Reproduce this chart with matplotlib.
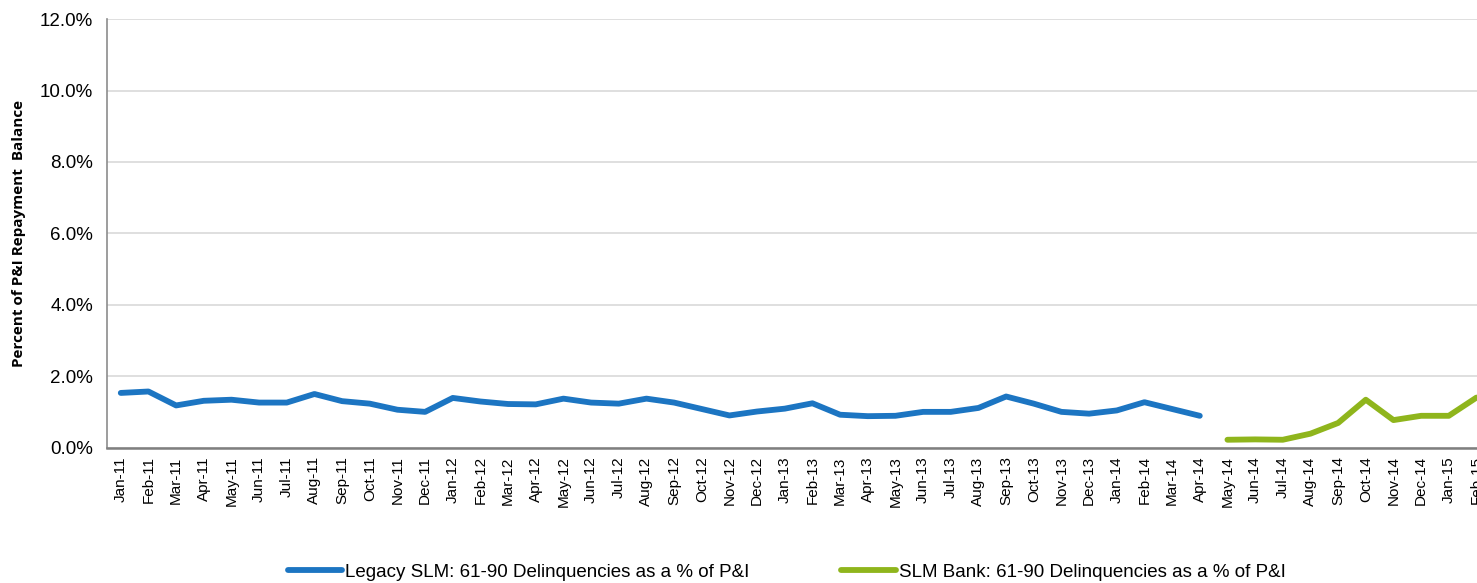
import matplotlib
matplotlib.use('Agg')
import matplotlib.pyplot as plt
import matplotlib.ticker as mticker
import numpy as np

plt.rcParams['font.family'] = ['Liberation Sans', 'DejaVu Sans']

months = [
    'Jan-11', 'Feb-11', 'Mar-11', 'Apr-11', 'May-11', 'Jun-11', 'Jul-11', 'Aug-11', 'Sep-11', 'Oct-11', 'Nov-11', 'Dec-11',
    'Jan-12', 'Feb-12', 'Mar-12', 'Apr-12', 'May-12', 'Jun-12', 'Jul-12', 'Aug-12', 'Sep-12', 'Oct-12', 'Nov-12', 'Dec-12',
    'Jan-13', 'Feb-13', 'Mar-13', 'Apr-13', 'May-13', 'Jun-13', 'Jul-13', 'Aug-13', 'Sep-13', 'Oct-13', 'Nov-13', 'Dec-13',
    'Jan-14', 'Feb-14', 'Mar-14', 'Apr-14', 'May-14', 'Jun-14', 'Jul-14', 'Aug-14', 'Sep-14', 'Oct-14', 'Nov-14', 'Dec-14',
    'Jan-15', 'Feb-15',
]

# Legacy SLM: Jan-11 .. Apr-14 (percent)
legacy = [1.54, 1.58, 1.19, 1.32, 1.35, 1.27, 1.27, 1.51, 1.31, 1.24, 1.07, 1.01,
          1.40, 1.30, 1.23, 1.22, 1.38, 1.27, 1.24, 1.38, 1.27, 1.09, 0.91, 1.02,
          1.10, 1.25, 0.93, 0.89, 0.90, 1.01, 1.01, 1.12, 1.44, 1.24, 1.01, 0.96,
          1.05, 1.28, 1.09, 0.90]

# SLM Bank: May-14 .. Feb-15 (percent)
bank = [0.23, 0.24, 0.23, 0.40, 0.70, 1.35, 0.78, 0.90, 0.90, 1.41]

blue = '#1C75C2'
green = '#8FB51C'

fig = plt.figure(figsize=(14.77, 5.83), dpi=100)
# axes runs past the right edge, the source image is cropped there
ax = fig.add_axes([0.0724, 0.2316, 0.9366, 0.7358])

x = np.arange(len(months))
ax.plot(x[:len(legacy)], legacy, color=blue, lw=4.2, solid_capstyle='round',
        label='Legacy SLM: 61-90 Delinquencies as a % of P&I')
ax.plot(x[len(legacy):], bank, color=green, lw=4.2, solid_capstyle='round',
        label='SLM Bank: 61-90 Delinquencies as a % of P&I')

ax.set_xlim(-0.5, len(months) - 0.5)
ax.set_ylim(0, 12)
ax.set_yticks(np.arange(0, 12.1, 2))
ax.yaxis.set_major_formatter(mticker.FuncFormatter(lambda v, p: f'{v:.1f}%'))
ax.set_xticks(x)
ax.set_xticklabels(months, rotation=90, fontsize=11)
ax.tick_params(axis='y', labelsize=13.5, length=0, pad=10)
ax.tick_params(axis='x', length=0, pad=6)

ax.grid(axis='y', color='#D9D9D9', lw=1.2)
ax.set_axisbelow(True)
ax.spines['top'].set_visible(False)
ax.spines['right'].set_visible(False)
ax.spines['left'].set_color('#8C8C8C')
ax.spines['left'].set_linewidth(1.2)
ax.spines['bottom'].set_color('#7F7F7F')
ax.spines['bottom'].set_linewidth(1.8)

ax.set_ylabel('Percent of P&I Repayment  Balance', fontsize=11, fontweight='bold',
              family=['Open Sans', 'DejaVu Sans'], labelpad=10)

leg = fig.legend(loc='lower left', bbox_to_anchor=(0.195, 0.004), ncol=2, frameon=False,
                 prop={'size': 13.5}, borderpad=0, borderaxespad=0,
                 handlelength=2.9, handletextpad=0.15, columnspacing=4.9)

fig.savefig('out.png', dpi=100)
